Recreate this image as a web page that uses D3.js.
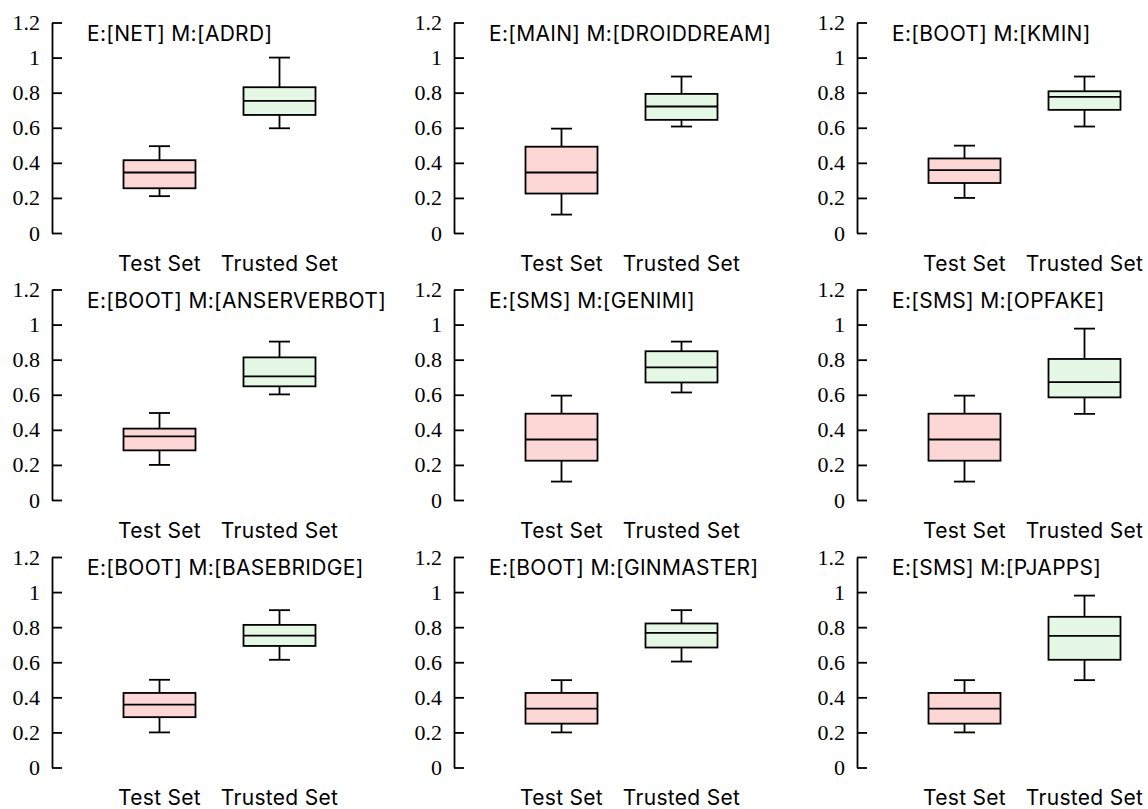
<!DOCTYPE html>
<html>
<head>
<meta charset="utf-8">
<script src="https://cdn.jsdelivr.net/npm/d3@7"></script>
<style>
  html, body { margin: 0; padding: 0; background: #ffffff; }
  svg { display: block; }
  .ylab { font-family: "Liberation Serif", "Times New Roman", Times, serif; font-size: 22px; }
  .sans { font-family: Inter, "Noto Sans", sans-serif; font-size: 21px; letter-spacing: 0.3px; }
</style>
</head>
<body>
<svg id="chart" width="1148" height="809"></svg>
<script>
// Panel titles (event / malware family), in reading order
const panelTitles = [
  "E:[NET] M:[ADRD]", "E:[MAIN] M:[DROIDDREAM]", "E:[BOOT] M:[KMIN]",
  "E:[BOOT] M:[ANSERVERBOT]", "E:[SMS] M:[GENIMI]", "E:[SMS] M:[OPFAKE]",
  "E:[BOOT] M:[BASEBRIDGE]", "E:[BOOT] M:[GINMASTER]", "E:[SMS] M:[PJAPPS]"
];
const categories = ["Test Set", "Trusted Set"];
const yTicks = [0, 0.2, 0.4, 0.6, 0.8, 1, 1.2];

// Test Set five-number summaries per panel
const testLow    = [0.210, 0.105, 0.200, 0.200, 0.105, 0.105, 0.200, 0.200, 0.200];
const testQ1     = [0.255, 0.225, 0.285, 0.283, 0.224, 0.224, 0.287, 0.250, 0.250];
const testMedian = [0.345, 0.345, 0.358, 0.363, 0.345, 0.345, 0.358, 0.336, 0.336];
const testQ3     = [0.415, 0.492, 0.425, 0.407, 0.492, 0.492, 0.425, 0.425, 0.425];
const testHigh   = [0.495, 0.595, 0.498, 0.496, 0.595, 0.595, 0.500, 0.498, 0.498];

// Trusted Set five-number summaries per panel
const trustLow    = [0.597, 0.607, 0.607, 0.602, 0.613, 0.491, 0.614, 0.604, 0.498];
const trustQ1     = [0.673, 0.645, 0.702, 0.648, 0.670, 0.585, 0.693, 0.684, 0.614];
const trustMedian = [0.753, 0.721, 0.776, 0.705, 0.756, 0.672, 0.752, 0.768, 0.750];
const trustQ3     = [0.831, 0.793, 0.808, 0.813, 0.848, 0.804, 0.813, 0.821, 0.859];
const trustHigh   = [1.000, 0.892, 0.892, 0.903, 0.903, 0.977, 0.897, 0.897, 0.980];

const fills = { "Test Set": "#fdd6d6", "Trusted Set": "#e5f8e5" };

// Grid layout: y-axis position of each column, zero line of each row
const colX = [52, 454, 857];
const rowY0 = [233, 500, 767.5];
const plotH = 210.5;
const boxW = 72, capW = 21;
const sw = 1.8;

const svg = d3.select("#chart");

panelTitles.forEach((title, i) => {
  const col = i % 3, row = Math.floor(i / 3);
  const g = svg.append("g").attr("transform", `translate(${colX[col]},${rowY0[row]})`);

  const y = d3.scaleLinear().domain([0, 1.2]).range([0, -plotH]);
  const x = d3.scalePoint().domain(categories).range([107.5, 227.5]);

  // Y axis: ticks point inward, serif labels on the left
  const axis = d3.axisLeft(y)
    .tickValues(yTicks)
    .tickFormat(d3.format("~g"))
    .tickSizeInner(-10)
    .tickSizeOuter(0)
    .tickPadding(12);
  const ag = g.append("g").call(axis)
    .attr("font-family", null)
    .attr("font-size", null);
  ag.select(".domain").attr("stroke", "#000").attr("stroke-width", sw);
  ag.selectAll(".tick line").attr("stroke", "#000").attr("stroke-width", sw);
  ag.selectAll(".tick text").attr("fill", "#000").attr("class", "ylab");

  // Title
  g.append("text")
    .attr("class", "sans")
    .attr("x", 35).attr("y", -192.3)
    .attr("fill", "#000")
    .text(title);

  // Category labels
  g.selectAll("text.cat").data(categories).join("text")
    .attr("class", "cat sans")
    .attr("x", d => x(d)).attr("y", 37.7)
    .attr("text-anchor", "middle")
    .attr("fill", "#000")
    .text(d => d);

  const stats = [
    { cat: "Test Set", lo: testLow[i], q1: testQ1[i], med: testMedian[i], q3: testQ3[i], hi: testHigh[i] },
    { cat: "Trusted Set", lo: trustLow[i], q1: trustQ1[i], med: trustMedian[i], q3: trustQ3[i], hi: trustHigh[i] }
  ];

  const bg = g.selectAll("g.box").data(stats).join("g")
    .attr("class", "box")
    .attr("transform", d => `translate(${x(d.cat)},0)`);

  // whiskers
  bg.append("line").attr("x1", 0).attr("x2", 0)
    .attr("y1", d => y(d.q3)).attr("y2", d => y(d.hi))
    .attr("stroke", "#000").attr("stroke-width", sw);
  bg.append("line").attr("x1", 0).attr("x2", 0)
    .attr("y1", d => y(d.q1)).attr("y2", d => y(d.lo))
    .attr("stroke", "#000").attr("stroke-width", sw);
  // caps
  bg.append("line").attr("x1", -capW / 2).attr("x2", capW / 2)
    .attr("y1", d => y(d.hi)).attr("y2", d => y(d.hi))
    .attr("stroke", "#000").attr("stroke-width", sw);
  bg.append("line").attr("x1", -capW / 2).attr("x2", capW / 2)
    .attr("y1", d => y(d.lo)).attr("y2", d => y(d.lo))
    .attr("stroke", "#000").attr("stroke-width", sw);
  // box
  bg.append("rect")
    .attr("x", -boxW / 2).attr("width", boxW)
    .attr("y", d => y(d.q3)).attr("height", d => y(d.q1) - y(d.q3))
    .attr("fill", d => fills[d.cat])
    .attr("stroke", "#000").attr("stroke-width", sw);
  // median
  bg.append("line").attr("x1", -boxW / 2).attr("x2", boxW / 2)
    .attr("y1", d => y(d.med)).attr("y2", d => y(d.med))
    .attr("stroke", "#000").attr("stroke-width", sw);
});
</script>
</body>
</html>
